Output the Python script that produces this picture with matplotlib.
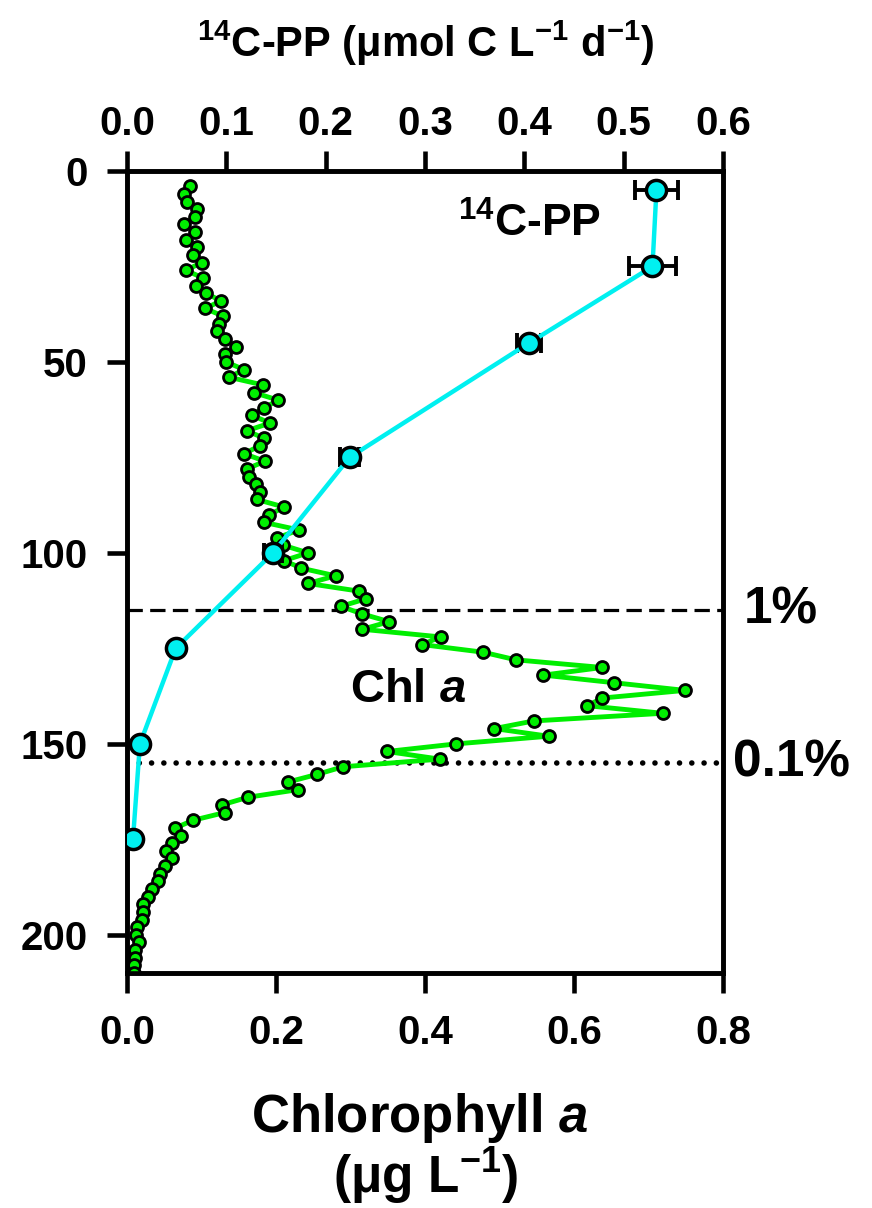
import numpy as np
import matplotlib
matplotlib.use("Agg")
import matplotlib.pyplot as plt
import matplotlib.transforms as mtransforms

plt.rcParams['font.family'] = ['Liberation Sans', 'DejaVu Sans']
plt.rcParams['font.weight'] = 'bold'
plt.rcParams['mathtext.fontset'] = 'custom'
plt.rcParams['mathtext.rm'] = 'Liberation Sans:bold'
plt.rcParams['mathtext.it'] = 'Liberation Sans:italic:bold'
plt.rcParams['mathtext.bf'] = 'Liberation Sans:bold'
plt.rcParams['mathtext.default'] = 'regular'

# ---------------------------
# Data
# ---------------------------
chl_depth = [4, 6, 8, 10, 12, 14, 16, 18, 20, 22, 24, 26, 28, 30, 32, 34, 36, 38, 40,
             42, 44, 46, 48, 50, 52, 54, 56, 58, 60, 62, 64, 66, 68, 70, 72, 74, 76,
             78, 80, 82, 84, 86, 88, 90, 92, 94, 96, 98, 100, 102, 104, 106, 108, 110,
             112, 114, 116, 118, 120, 122, 124, 126, 128, 130, 132, 134, 136, 138, 140,
             142, 144, 146, 148, 150, 152, 154, 156, 158, 160, 162, 164, 166, 168, 170,
             172, 174, 176, 178, 180, 182, 184, 186, 188, 190, 192, 194, 196, 198, 200,
             202, 204, 206, 208, 210]
chl = [0.084, 0.077, 0.081, 0.094, 0.091, 0.077, 0.091, 0.079, 0.094, 0.088,
       0.100, 0.079, 0.102, 0.093, 0.106, 0.126, 0.105, 0.129, 0.123, 0.121,
       0.132, 0.146, 0.131, 0.133, 0.157, 0.137, 0.182, 0.170, 0.203, 0.184,
       0.168, 0.192, 0.161, 0.184, 0.178, 0.157, 0.185, 0.161, 0.164, 0.173,
       0.179, 0.174, 0.211, 0.191, 0.184, 0.231, 0.202, 0.210, 0.243, 0.211,
       0.234, 0.280, 0.243, 0.311, 0.321, 0.287, 0.316, 0.352, 0.316, 0.421,
       0.396, 0.478, 0.522, 0.638, 0.559, 0.654, 0.749, 0.638, 0.618, 0.719,
       0.546, 0.493, 0.566, 0.442, 0.349, 0.420, 0.290, 0.255, 0.216, 0.229,
       0.162, 0.127, 0.131, 0.089, 0.065, 0.073, 0.060, 0.053, 0.061, 0.051,
       0.044, 0.042, 0.034, 0.028, 0.021, 0.021, 0.020, 0.014, 0.012, 0.016,
       0.011, 0.011, 0.010, 0.009]

pp_depth = [5, 25, 45, 75, 100, 125, 150, 175]
pp = [0.533, 0.529, 0.405, 0.224, 0.147, 0.049, 0.013, 0.006]
pp_err = [0.022, 0.024, 0.012, 0.010, 0.009, 0.002, 0.0, 0.0]

light_depths = [115, 155]
light_labels = ['1%', '0.1%']

chl_ticks = [0.0, 0.2, 0.4, 0.6, 0.8]
pp_ticks = [0.0, 0.1, 0.2, 0.3, 0.4, 0.5, 0.6]
depth_ticks = [0, 50, 100, 150, 200]

GREEN = '#00ee00'
CYAN = '#00f0f0'

fig = plt.figure(figsize=(8.72, 12.08), dpi=100)
ax = fig.add_axes([127 / 872, 1 - 973 / 1208, 596 / 872, 802 / 1208])
ax2 = ax.twiny()

# light level reference lines
ax.axhline(light_depths[0], color='black', lw=2.3, linestyle=(0, (4.8, 2.3)), zorder=1)
ax.axhline(light_depths[1], color='black', lw=4.0, linestyle=(0, (0.01, 2.2)),
           dash_capstyle='round', zorder=1)

# chlorophyll profile
ax.plot(chl, chl_depth, color=GREEN, lw=3.5, marker='o', ms=8.6,
        mfc=GREEN, mec='black', mew=2.0, zorder=3)

# 14C-PP profile, error bars only where there is a spread (drawn under the markers)
has_err = [i for i, e in enumerate(pp_err) if e > 0]
ax2.errorbar([pp[i] for i in has_err], [pp_depth[i] for i in has_err],
             xerr=[pp_err[i] for i in has_err], fmt='none', ecolor='black',
             elinewidth=2.8, capsize=7.5, capthick=2.8, zorder=3)
ax2.plot(pp, pp_depth, color=CYAN, lw=3.2, marker='o', ms=14.5,
         mfc=CYAN, mec='black', mew=2.5, zorder=4)

ax.set_ylim(210, 0)
ax.set_xlim(0, 0.8)
ax2.set_xlim(0, 0.6)
ax.set_xticks(chl_ticks)
ax.set_xticklabels([f'{t:.1f}' for t in chl_ticks])
ax2.set_xticks(pp_ticks)
ax2.set_xticklabels([f'{t:.1f}' for t in pp_ticks])
ax.set_yticks(depth_ticks)

for a in (ax, ax2):
    for s in a.spines.values():
        s.set_linewidth(3.3)
ax.tick_params(axis='both', direction='out', length=14.5, width=3.3, labelsize=29)
ax.tick_params(axis='x', pad=15)
ax.tick_params(axis='y', pad=14)
ax2.tick_params(axis='x', direction='out', length=14.5, width=3.3, labelsize=29, pad=6)

# in-plot labels
ax.text(0.30, 139, 'Chl $\\mathit{a}$', fontsize=34, fontweight='bold', va='baseline')
ax2.text(0.333, 17.3, '$^{14}$C-PP', fontsize=32, fontweight='bold', va='baseline')

trans = mtransforms.blended_transform_factory(ax.transAxes, ax.transData)
ax.text(1.034, light_depths[0], light_labels[0], transform=trans, fontsize=37,
        fontweight='bold', va='center', ha='left', clip_on=False)
ax.text(1.017, light_depths[1], light_labels[1], transform=trans, fontsize=37,
        fontweight='bold', va='center', ha='left', clip_on=False)

# axis titles
fig.text(426 / 872, 1 - 57 / 1208, '$^{14}$C-PP (μmol C L$^{-1}$ d$^{-1}$)',
         fontsize=30, fontweight='bold', ha='center', va='baseline')
fig.text(420 / 872, 1 - 1132 / 1208, 'Chlorophyll $\\mathit{a}$',
         fontsize=38, fontweight='bold', ha='center', va='baseline')
fig.text(426 / 872, 1 - 1193 / 1208, '(μg L$^{-1}$)',
         fontsize=37, fontweight='bold', ha='center', va='baseline')

fig.savefig('out.png', dpi=100)
